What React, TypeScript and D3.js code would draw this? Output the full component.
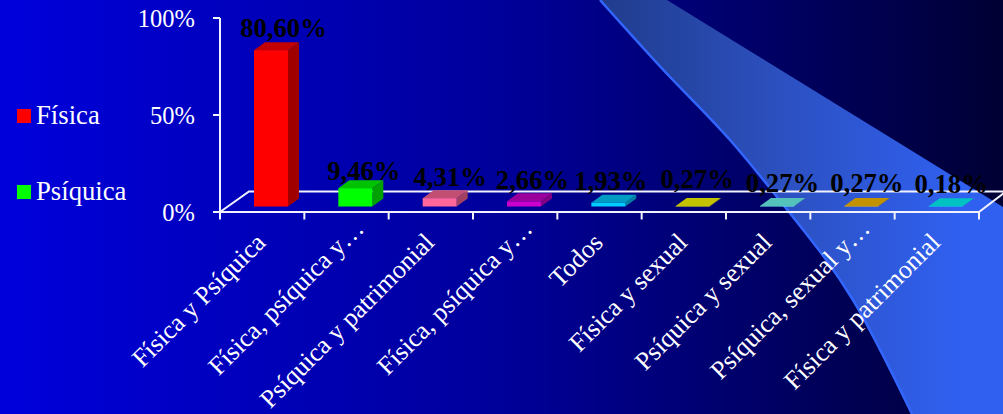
import React from "react";
import * as d3 from "d3";

const categories = ["Física y Psíquica","Física, psíquica y…","Psíquica y patrimonial","Física, psíquica y…","Todos","Física y sexual","Psíquica y sexual","Psíquica, sexual y…","Física y patrimonial"];
const values = [80.6,9.46,4.31,2.66,1.93,0.27,0.27,0.27,0.18];
const valueLabels = ["80,60%","9,46%","4,31%","2,66%","1,93%","0,27%","0,27%","0,27%","0,18%"];
const barColors = ["#ff0000","#00ff00","#ff6699","#cc00cc","#00ccff","#ffff00","#6efff5","#ffc000","#00ffff"];
const yTicks = [0,50,100];
const legendNames = ["Física","Psíquica"];
const legendColors = ["#ff0000","#00ff00"];
const labelDx = [12,8,10,8,2,4,5,5,5];
const labelBase = [37,180,186,189,190,187.5,192,192,193];

const W = 1003, H = 414;
const serif = "'Liberation Serif', serif";
const axisCol = "#f2f2ff";
const shade = (hex: string, k: number) => {
  const c = d3.rgb(hex);
  return d3.rgb(c.r * k, c.g * k, c.b * k).formatHex();
};

export default function App() {
  const x = d3.scaleBand<number>().domain(d3.range(categories.length)).range([220, 979]);
  const y = d3.scaleLinear().domain([0, 100]).range([212, 18]);
  const barH = d3.scaleLinear().domain([0, 100]).range([0, 194]);
  const bw = 34, dx = 11, dy = -8, base = 206.5;
  const beamLeft = d3.line().curve(d3.curveNatural)([[600,0],[670,77],[730,140],[793,217],[853,300],[912,414]]) as string;
  return (
    <svg width={W} height={H} viewBox={`0 0 ${W} ${H}`} style={{position:"absolute",left:0,top:0,display:"block"}}>
      <defs>
        <linearGradient id="bg" x1="0" x2="1" y1="0" y2="0">
          <stop offset="0" stopColor="#0000dc"/>
          <stop offset="0.5" stopColor="#00009a"/>
          <stop offset="0.75" stopColor="#000068"/>
          <stop offset="1" stopColor="#000034"/>
        </linearGradient>
        <linearGradient id="beam" gradientUnits="userSpaceOnUse" x1="600" x2="960" y1="0" y2="0">
          <stop offset="0" stopColor="#203c8c"/>
          <stop offset="0.5" stopColor="#2c50c0"/>
          <stop offset="1" stopColor="#3060f0"/>
        </linearGradient>
      </defs>
      <rect width={W} height={H} fill="url(#bg)"/>
      <path d={`${beamLeft}L1003,414L1003,207L667,0Z`} fill="url(#beam)"/>
      <path d={beamLeft} fill="none" stroke="#3366ff" strokeWidth={2.5}/>

      <g stroke={axisCol} strokeWidth={2} fill="none">
        <path d="M220,18V212H979L1006,191.5H249L220,212"/>
        {yTicks.map(t => <path key={t} d={`M213,${y(t)}H220`}/>)}
        {d3.range(categories.length + 1).map(i => {
          const px = 220 + i * x.bandwidth();
          return <path key={i} d={`M${px},212V219.5`}/>;
        })}
      </g>
      {yTicks.map(t => (
        <text key={t} x={195} y={y(t)+9} textAnchor="end" fontFamily={serif} fontSize={24.5} fill="#fff">{t}%</text>
      ))}

      {values.map((v, i) => {
        const x0 = (x(i) as number) + 34, x1 = x0 + bw, t = base - barH(v);
        return (
          <g key={i}>
            <path d={`M${x1},${t}l${dx},${dy}V${base+dy}L${x1},${base}Z`} fill={shade(barColors[i], 0.63)}/>
            <path d={`M${x0},${t}l${dx},${dy}H${x1+dx}L${x1},${t}Z`} fill={shade(barColors[i], 0.76)}/>
            <rect x={x0} y={t} width={bw} height={base-t} fill={barColors[i]}/>
          </g>
        );
      })}
      {valueLabels.map((s, i) => (
        <text key={i} x={(x(i) as number)+51.5+labelDx[i]} y={labelBase[i]} textAnchor="middle" fontFamily={serif} fontWeight="bold" fontSize={26.7} fill="#000">{s}</text>
      ))}

      {categories.map((s, i) => {
        const cut = s.endsWith("…") ? 14 : 0;
        const px = (x(i) as number) + 47 + cut, py = 244 - cut;
        return <text key={i} transform={`translate(${px},${py}) rotate(-45)`} textAnchor="end" fontFamily={serif} fontSize={26} fill="#fff">{s}</text>;
      })}

      {legendNames.map((s, i) => {
        const ly = [109,185][i];
        return (
          <g key={s}>
            <rect x={17} y={ly} width={14} height={14} fill={legendColors[i]}/>
            <text x={36} y={ly+14.5} fontFamily={serif} fontSize={26.7} fill="#fff">{s}</text>
          </g>
        );
      })}
    </svg>
  );
}
